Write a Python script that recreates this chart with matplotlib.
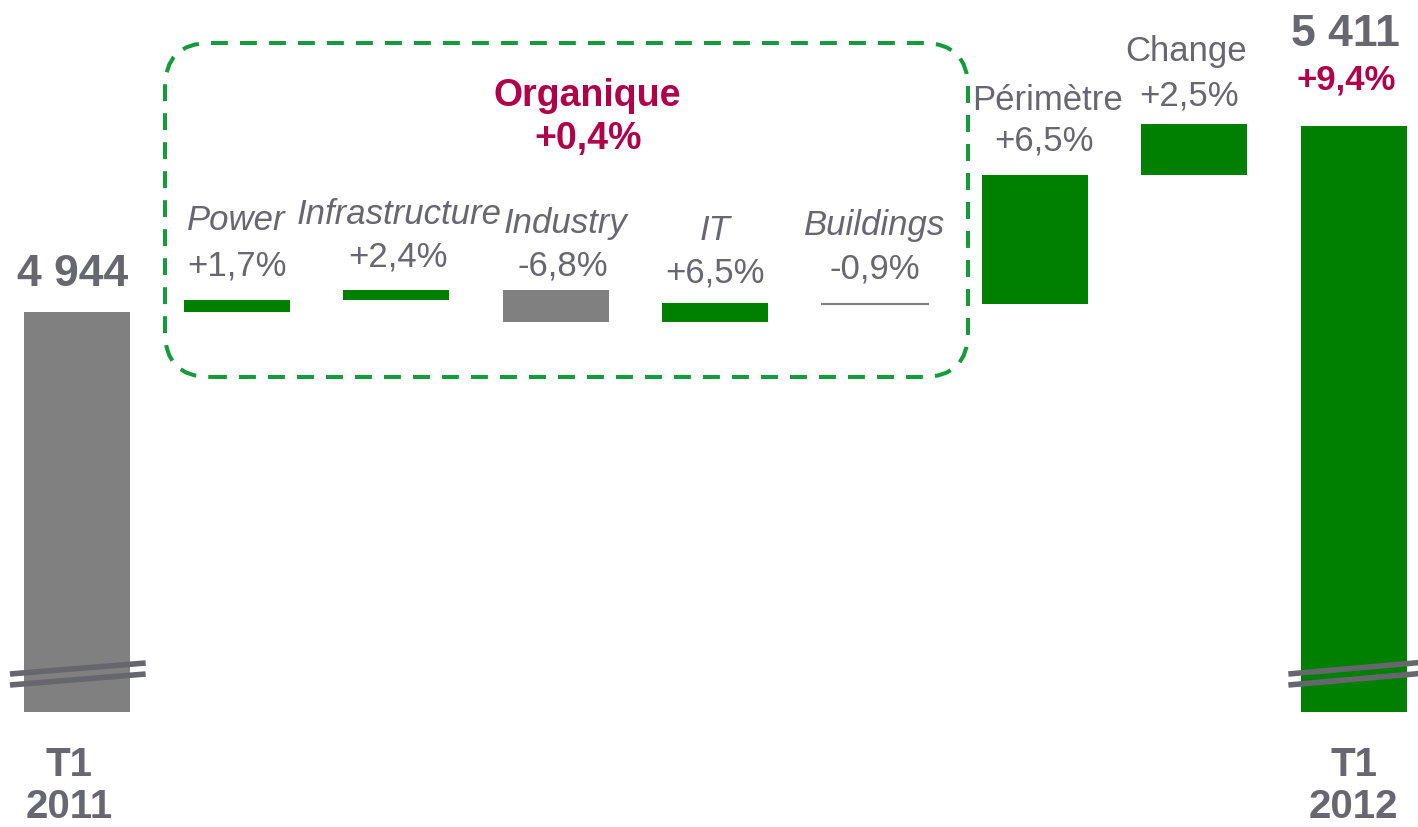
import numpy as np
import matplotlib
matplotlib.use("Agg")
import matplotlib.pyplot as plt
from matplotlib.patches import FancyBboxPatch

plt.rcParams['font.family'] = ['Liberation Sans', 'DejaVu Sans']

start = 4944
end = 5411
steps = ['Power', 'Infrastructure', 'Industry', 'IT', 'Buildings', 'Périmètre', 'Change']
deltas = [30, 24, -80, 48, -2, 325, 127]
step_pct = ['+1,7%', '+2,4%', '-6,8%', '+6,5%', '-0,9%', '+6,5%', '+2,5%']
growth = '+9,4%'
organic = '+0,4%'

GREEN = '#008000'
GREY = '#808080'
TXT = '#67676f'
RED = '#b0004a'
BOX = '#159a3c'

W, H = 1418, 827
fig = plt.figure(figsize=(W / 100, H / 100), dpi=100)
ax = fig.add_axes([0, 0, 1, 1])
ax.axis('off')

# pixel -> data mapping
upp = (5411 - 4944) / (312 - 126)
ytop = 4944 + 312 * upp
ybot = ytop - H * upp
ax.set_ylim(ybot, ytop)
ax.set_xlim(-77 / 159.6, (W - 77) / 159.6)
base = ytop - 712 * upp
bw = 106 / 159.6

# totals
ax.bar(0, start - base, bottom=base, width=bw, color=GREY)
ax.bar(8, end - base, bottom=base, width=bw, color=GREEN)

# steps
cum = start
for i, d in enumerate(deltas):
    x = i + 1
    if steps[i] == 'Buildings':
        ax.plot([x - bw / 2, x + bw / 2], [cum + d / 2] * 2, color=GREY, lw=1.5)
    else:
        col = GREEN if d > 0 else GREY
        ax.bar(x, d, bottom=cum, width=bw, color=col)
    cum += d

# break marks
for off in (0, 11):
    ax.plot([-0.42, 0.43], [ytop - (674 + off) * upp, ytop - (663 + off) * upp],
            color='#66666e', lw=4, solid_capstyle='butt', zorder=5)
    ax.plot([7.59, 8.45], [ytop - (674 + off) * upp, ytop - (662 + off) * upp],
            color='#66666e', lw=4, solid_capstyle='butt', zorder=5)

tr = ax.get_xaxis_transform()
def py(p):
    return 1 - p / H

# labels
ax.text(-0.03, py(274), '4 944', ha='center', va='center', fontsize=32, fontweight='bold', color=TXT, transform=tr)
ax.text(-0.05, py(765), 'T1', ha='center', va='center', fontsize=29, fontweight='bold', color=TXT, transform=tr)
ax.text(-0.05, py(807), '2011', ha='center', va='center', fontsize=29, fontweight='bold', color=TXT, transform=tr)
ax.text(8.0, py(765), 'T1', ha='center', va='center', fontsize=29, fontweight='bold', color=TXT, transform=tr)
ax.text(8.0, py(807), '2012', ha='center', va='center', fontsize=29, fontweight='bold', color=TXT, transform=tr)
ax.text(7.95, py(34), '5 411', ha='center', va='center', fontsize=32, fontweight='bold', color=TXT, transform=tr)
ax.text(7.95, py(80), growth, ha='center', va='center', fontsize=25, fontweight='bold', color=RED, transform=tr)

ax.text(3.2, py(96), 'Organique', ha='center', va='center', fontsize=27, fontweight='bold', color=RED, transform=tr)
ax.text(3.2, py(139), organic, ha='center', va='center', fontsize=27, fontweight='bold', color=RED, transform=tr)

name_y = [221, 215, 223, 231, 226, 101, 51]
pct_y = [266, 257, 266, 273, 269, 141, 96]
xoff = [0, 0.02, 0.06, 0, 0, 0.08, -0.05]
for i, s in enumerate(steps):
    style = 'italic' if i < 5 else 'normal'
    ax.text(i + 1 + xoff[i], py(name_y[i]), s, ha='center', va='center', fontsize=25,
            style=style, color=TXT, transform=tr)
    ax.text(i + 1 + xoff[i] * 0.7, py(pct_y[i]), step_pct[i], ha='center', va='center', fontsize=25,
            color=TXT, transform=tr)

# dashed rounded box around organic steps
box = FancyBboxPatch((1.65, (H - 377) / 100), 8.03, 3.34,
                     boxstyle='round,pad=0,rounding_size=0.45',
                     transform=fig.dpi_scale_trans, fill=False, edgecolor=BOX,
                     lw=2.9, linestyle=(0, (4.2, 3.0)))
fig.patches.append(box)

fig.savefig('out.png', dpi=100)
